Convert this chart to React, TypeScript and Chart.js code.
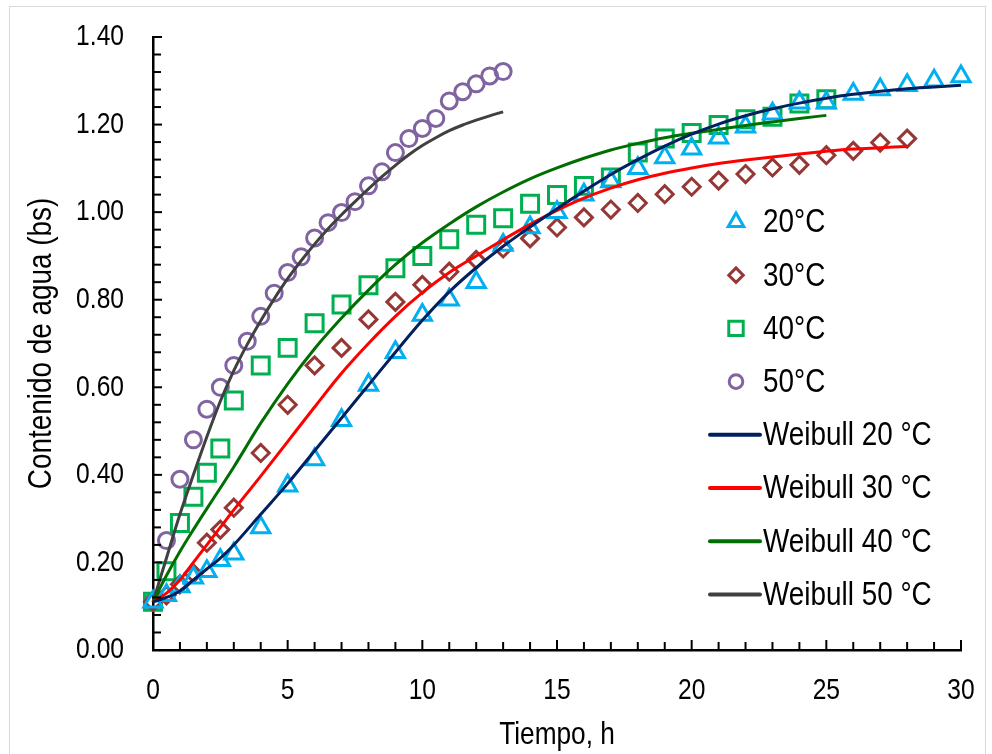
import React, { useEffect, useRef } from "react";
import { Chart, registerables } from "chart.js";

Chart.register(...registerables);

// ---- data (time in h, water content in bs) ----
const t20 = [0, 0.5, 1, 1.5, 2, 2.5, 3, 4, 5, 6, 7, 8, 9, 10, 11, 12, 13, 14, 15, 16, 17, 18, 19, 20, 21, 22, 23, 24, 25, 26, 27, 28, 29, 30];
const m20 = [0.11, 0.125, 0.145, 0.165, 0.18, 0.205, 0.22, 0.28, 0.375, 0.435, 0.525, 0.605, 0.68, 0.765, 0.8, 0.84, 0.925, 0.965, 1.0, 1.04, 1.07, 1.1, 1.125, 1.145, 1.17, 1.195, 1.225, 1.25, 1.25, 1.27, 1.28, 1.29, 1.3, 1.31];
const w20 = [0.11, 0.12, 0.135, 0.16, 0.185, 0.21, 0.24, 0.31, 0.38, 0.455, 0.53, 0.605, 0.68, 0.753, 0.818, 0.873, 0.922, 0.966, 1.008, 1.048, 1.086, 1.12, 1.151, 1.178, 1.201, 1.22, 1.236, 1.249, 1.26, 1.269, 1.276, 1.282, 1.286, 1.29];

const t30 = [0, 0.5, 1, 1.5, 2, 2.5, 3, 4, 5, 6, 7, 8, 9, 10, 11, 12, 13, 14, 15, 16, 17, 18, 19, 20, 21, 22, 23, 24, 25, 26, 27, 28];
const m30 = [0.11, 0.125, 0.15, 0.175, 0.245, 0.275, 0.325, 0.45, 0.56, 0.65, 0.69, 0.755, 0.795, 0.834, 0.864, 0.891, 0.917, 0.94, 0.965, 0.988, 1.006, 1.021, 1.041, 1.058, 1.072, 1.087, 1.102, 1.108, 1.13, 1.14, 1.159, 1.168];
const w30 = [0.11, 0.13, 0.16, 0.2, 0.24, 0.28, 0.32, 0.397, 0.476, 0.555, 0.632, 0.7, 0.762, 0.816, 0.862, 0.9, 0.937, 0.972, 1.004, 1.032, 1.055, 1.074, 1.089, 1.101, 1.111, 1.119, 1.126, 1.133, 1.139, 1.144, 1.147, 1.15];

const t40 = [0, 0.5, 1, 1.5, 2, 2.5, 3, 4, 5, 6, 7, 8, 9, 10, 11, 12, 13, 14, 15, 16, 17, 18, 19, 20, 21, 22, 23, 24, 25];
const m40 = [0.11, 0.18, 0.29, 0.35, 0.405, 0.46, 0.57, 0.65, 0.69, 0.746, 0.789, 0.833, 0.872, 0.9, 0.938, 0.971, 0.986, 1.019, 1.039, 1.06, 1.079, 1.136, 1.168, 1.181, 1.199, 1.212, 1.218, 1.248, 1.258];
const w40 = [0.11, 0.17, 0.225, 0.275, 0.323, 0.37, 0.418, 0.518, 0.608, 0.688, 0.758, 0.822, 0.88, 0.93, 0.973, 1.012, 1.046, 1.076, 1.101, 1.123, 1.142, 1.157, 1.17, 1.18, 1.189, 1.198, 1.206, 1.214, 1.221];

const t50 = [0, 0.5, 1, 1.5, 2, 2.5, 3, 3.5, 4, 4.5, 5, 5.5, 6, 6.5, 7, 7.5, 8, 8.5, 9, 9.5, 10, 10.5, 11, 11.5, 12, 12.5, 13];
const m50 = [0.11, 0.25, 0.39, 0.48, 0.55, 0.6, 0.65, 0.705, 0.762, 0.815, 0.862, 0.898, 0.941, 0.976, 0.999, 1.024, 1.06, 1.092, 1.136, 1.168, 1.191, 1.214, 1.254, 1.275, 1.293, 1.311, 1.321];
const w50 = [0.11, 0.21, 0.31, 0.4, 0.487, 0.568, 0.638, 0.698, 0.752, 0.802, 0.848, 0.889, 0.927, 0.962, 0.994, 1.024, 1.053, 1.081, 1.107, 1.131, 1.152, 1.17, 1.186, 1.199, 1.21, 1.22, 1.229];

const seriesLabels = ["20°C", "30°C", "40°C", "50°C", "Weibull 20 °C", "Weibull 30 °C", "Weibull 40 °C", "Weibull 50 °C"];
const xTitle = "Tiempo, h";
const yTitle = "Contenido de agua (bs)";
const xMin = 0, xMax = 30, xStep = 5, xMinorStep = 1;
const yMin = 0, yMax = 1.4, yStep = 0.2, yMinorStep = 0.04;

const FONT = "'Liberation Sans', Arial, sans-serif";
const NARROW = 0.82; // horizontal squeeze to mimic a narrow sans face

const pts = (xs: number[], ys: number[]) => xs.map((x, i) => ({ x, y: ys[i] }));

function drawMarker(ctx: CanvasRenderingContext2D, style: string, x: number, y: number, r: number) {
  ctx.beginPath();
  if (style === "triangle") {
    ctx.moveTo(x, y - r);
    ctx.lineTo(x + r * Math.sin((2 * Math.PI) / 3), y + r / 2);
    ctx.lineTo(x - r * Math.sin((2 * Math.PI) / 3), y + r / 2);
    ctx.closePath();
  } else if (style === "rectRot") {
    ctx.moveTo(x - r, y);
    ctx.lineTo(x, y - r);
    ctx.lineTo(x + r, y);
    ctx.lineTo(x, y + r);
    ctx.closePath();
  } else if (style === "rect") {
    const s = r * Math.SQRT1_2;
    ctx.rect(x - s, y - s, 2 * s, 2 * s);
  } else {
    ctx.arc(x, y, r, 0, Math.PI * 2);
  }
  ctx.stroke();
}

const insideTicks = {
  id: "insideTicks",
  afterDraw(chart: any) {
    const { ctx, chartArea: a, scales } = chart;
    const xs = scales.x, ys = scales.y;
    ctx.save();
    ctx.strokeStyle = "#000";
    ctx.lineWidth = 2;
    const ny = Math.round((yMax - yMin) / yMinorStep);
    for (let i = 0; i <= ny; i++) {
      const v = yMin + i * yMinorStep;
      const py = ys.getPixelForValue(v);
      const len = i % 5 === 0 ? 9 : 8;
      ctx.beginPath();
      ctx.moveTo(a.left, py);
      ctx.lineTo(a.left + len, py);
      ctx.stroke();
    }
    const nx = Math.round((xMax - xMin) / xMinorStep);
    for (let i = 0; i <= nx; i++) {
      const v = xMin + i * xMinorStep;
      const px = xs.getPixelForValue(v);
      const len = i % 5 === 0 ? 10 : 8;
      ctx.beginPath();
      ctx.moveTo(px, a.bottom);
      ctx.lineTo(px, a.bottom - len);
      ctx.stroke();
    }
    ctx.restore();
  },
};

const customLegend = {
  id: "customLegend",
  afterDraw(chart: any) {
    const { ctx, chartArea: a } = chart;
    const ds = chart.data.datasets;
    const markerX = a.left + 583;
    const lineX0 = a.left + 557;
    const lineX1 = a.left + 607;
    const textX = a.left + 610;
    const y0 = a.top + 185;
    const dy = 53.2;
    ctx.save();
    ctx.font = `34px ${FONT}`;
    ctx.textBaseline = "middle";
    ctx.textAlign = "left";
    ds.forEach((d: any, i: number) => {
      const y = y0 + i * dy;
      if (d.showLine === false) {
        ctx.strokeStyle = d.borderColor;
        ctx.lineWidth = d.pointBorderWidth;
        drawMarker(ctx, d.pointStyle, markerX, y, d.pointRadius * 0.85);
      } else {
        ctx.strokeStyle = d.borderColor;
        ctx.lineWidth = 4;
        ctx.lineCap = "round";
        ctx.beginPath();
        ctx.moveTo(lineX0, y);
        ctx.lineTo(lineX1, y);
        ctx.stroke();
      }
      ctx.fillStyle = "#000";
      ctx.fillText(d.label, textX, y + 1);
    });
    ctx.restore();
  },
};

function narrowText(ctx: CanvasRenderingContext2D) {
  const anyCtx = ctx as any;
  if (anyCtx.__narrow) return;
  anyCtx.__narrow = true;
  const orig = ctx.fillText.bind(ctx);
  anyCtx.fillText = (text: string, x: number, y: number, maxWidth?: number) => {
    ctx.save();
    ctx.translate(x, y);
    ctx.scale(NARROW, 1);
    if (maxWidth !== undefined) orig(text, 0, 0, maxWidth / NARROW);
    else orig(text, 0, 0);
    ctx.restore();
  };
}

export default function App() {
  const ref = useRef<HTMLCanvasElement | null>(null);

  useEffect(() => {
    if (!ref.current) return;
    const ctx = ref.current.getContext("2d") as CanvasRenderingContext2D;
    narrowText(ctx);
    const markerBase = {
      showLine: false,
      pointBorderWidth: 3,
      pointBackgroundColor: "rgba(0,0,0,0)",
      backgroundColor: "rgba(0,0,0,0)",
      clip: false,
      order: 2,
    };
    const lineBase = {
      showLine: true,
      pointRadius: 0,
      pointHoverRadius: 0,
      borderWidth: 3,
      tension: 0.4,
      cubicInterpolationMode: "monotone",
      fill: false,
      clip: false,
      order: 1,
    };
    const chart = new Chart(ctx, {
      type: "scatter",
      data: {
        datasets: [
          { ...markerBase, label: seriesLabels[0], data: pts(t20, m20), pointStyle: "triangle", pointRadius: 10.5, borderColor: "#00B0F0", pointBorderColor: "#00B0F0" },
          { ...markerBase, label: seriesLabels[1], data: pts(t30, m30), pointStyle: "rectRot", pointRadius: 8.5, borderColor: "#953735", pointBorderColor: "#953735" },
          { ...markerBase, label: seriesLabels[2], data: pts(t40, m40), pointStyle: "rect", pointRadius: 12, borderColor: "#00B050", pointBorderColor: "#00B050" },
          { ...markerBase, label: seriesLabels[3], data: pts(t50, m50), pointStyle: "circle", pointRadius: 8, borderColor: "#8064A2", pointBorderColor: "#8064A2" },
          { ...lineBase, label: seriesLabels[4], data: pts(t20, w20), borderColor: "#002060" },
          { ...lineBase, label: seriesLabels[5], data: pts(t30, w30), borderColor: "#FF0000" },
          { ...lineBase, label: seriesLabels[6], data: pts(t40, w40), borderColor: "#006E00" },
          { ...lineBase, label: seriesLabels[7], data: pts(t50, w50), borderColor: "#404040" },
        ] as any,
      },
      options: {
        responsive: false,
        animation: false,
        devicePixelRatio: 1,
        layout: { padding: { top: 37, right: 31, left: 0, bottom: 0 } },
        plugins: { legend: { display: false }, tooltip: { enabled: false } },
        scales: {
          x: {
            type: "linear",
            min: xMin,
            max: xMax,
            ticks: { stepSize: xStep, color: "#000", padding: 23, font: { family: FONT, size: 30 } },
            grid: { drawOnChartArea: false, drawTicks: false },
            border: { display: true, color: "#000", width: 2.5 },
            title: { display: true, text: xTitle, color: "#000", padding: { top: 0, bottom: 0 }, font: { family: FONT, size: 32, lineHeight: 1.2 } },
            afterFit: (s: any) => { s.height = 104; s.paddingLeft = 0; s.paddingRight = 0; },
          },
          y: {
            type: "linear",
            min: yMin,
            max: yMax,
            ticks: { stepSize: yStep, color: "#000", padding: 29, font: { family: FONT, size: 30 }, callback: (v: any) => Number(v).toFixed(2) },
            grid: { drawOnChartArea: false, drawTicks: false },
            border: { display: true, color: "#000", width: 2.5 },
            title: { display: true, text: yTitle, color: "#000", padding: { top: 21.5, bottom: 0 }, font: { family: FONT, size: 34, lineHeight: 1.2 } },
            afterFit: (s: any) => { s.width = 153; s.paddingTop = 0; s.paddingBottom = 0; },
          },
        },
      } as any,
      plugins: [insideTicks, customLegend],
    });
    return () => chart.destroy();
  }, []);

  return (
    <div style={{ position: "absolute", left: 0, top: 0, width: 992, height: 754, background: "#fff", overflow: "hidden" }}>
      <div style={{ position: "absolute", left: 9, top: 6, width: 977, height: 760, border: "1.5px solid #d9d9d9", boxSizing: "border-box" }} />
      <canvas ref={ref} width={992} height={754} style={{ position: "absolute", left: 0, top: 0, width: 992, height: 754 }} />
    </div>
  );
}
